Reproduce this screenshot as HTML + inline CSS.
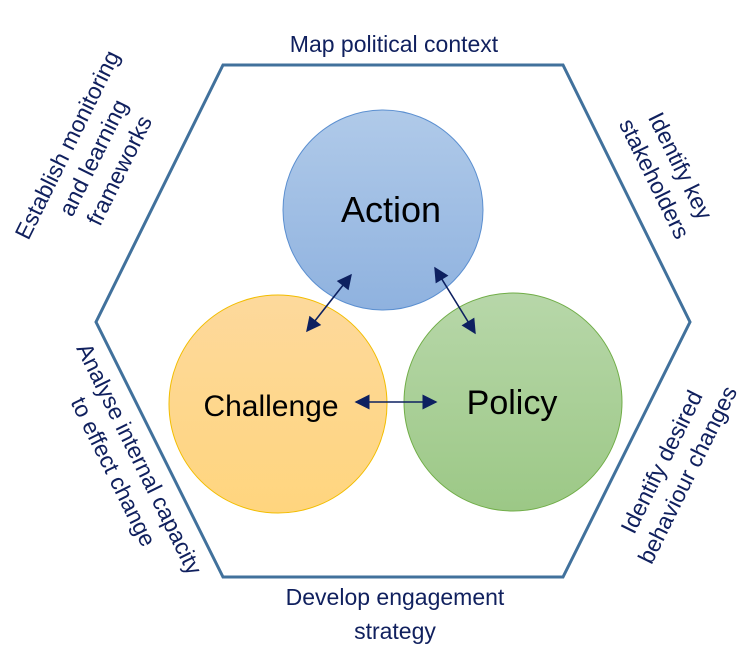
<!DOCTYPE html>
<html><head><meta charset="utf-8"><style>html,body{margin:0;padding:0;background:#fff}svg{display:block}</style></head>
<body>
<svg width="756" height="657" viewBox="0 0 756 657" xmlns="http://www.w3.org/2000/svg" font-family="'Liberation Sans', sans-serif">
<defs>
<linearGradient id="ga" x1="0" y1="0" x2="0" y2="1"><stop offset="0" stop-color="#b0cae9"/><stop offset="1" stop-color="#8fb2df"/></linearGradient>
<linearGradient id="gc" x1="0" y1="0" x2="0" y2="1"><stop offset="0" stop-color="#fdd99c"/><stop offset="1" stop-color="#ffd57e"/></linearGradient>
<linearGradient id="gp" x1="0" y1="0" x2="0" y2="1"><stop offset="0" stop-color="#b7d7a9"/><stop offset="1" stop-color="#9cc886"/></linearGradient>
<marker id="ah" viewBox="0 0 10 10" refX="9" refY="5" markerUnits="userSpaceOnUse" markerWidth="17" markerHeight="15" orient="auto-start-reverse"><path d="M0,0 L10,5 L0,10 z" fill="#0d2060"/></marker>
</defs>
<polygon points="223,65 563,65 690,322 563,577 223,577 96,322" fill="none" stroke="#41719c" stroke-width="3"/>
<circle cx="383" cy="210" r="100" fill="url(#ga)" stroke="#5b8fd0" stroke-width="1"/>
<circle cx="278" cy="404" r="109" fill="url(#gc)" stroke="#f2bd00" stroke-width="1"/>
<circle cx="513" cy="402" r="109" fill="url(#gp)" stroke="#70ad47" stroke-width="1"/>
<g stroke="#0d2060" stroke-width="1.6" fill="none">
<line x1="351" y1="275" x2="307" y2="331" marker-start="url(#ah)" marker-end="url(#ah)"/>
<line x1="435" y1="268" x2="475" y2="333" marker-start="url(#ah)" marker-end="url(#ah)"/>
<line x1="356" y1="402" x2="436" y2="402" marker-start="url(#ah)" marker-end="url(#ah)"/>
</g>
<g fill="#000" text-anchor="middle">
<text x="391" y="222" font-size="36">Action</text>
<text x="271" y="416" font-size="30">Challenge</text>
<text x="512" y="414" font-size="34">Policy</text>
</g>
<g fill="#10205e" font-size="23" text-anchor="middle">
<text x="394" y="52">Map political context</text>
<text x="395" y="605">Develop engagement</text>
<text x="395" y="639">strategy</text>
<g transform="translate(94,158) rotate(-63.7)">
<text x="0" y="-22">Establish monitoring</text>
<text x="0" y="7">and learning</text>
<text x="0" y="36">frameworks</text>
</g>
<g transform="translate(668,172) rotate(63.7)">
<text x="0" y="-6">Identify key</text>
<text x="0" y="23">stakeholders</text>
</g>
<g transform="translate(674,468) rotate(-63.7)">
<text x="0" y="-6">Identify desired</text>
<text x="0" y="23">behaviour changes</text>
</g>
<g transform="translate(127,465) rotate(63.7)">
<text x="0" y="-6">Analyse internal capacity</text>
<text x="0" y="23">to effect change</text>
</g>
</g>
</svg>
</body></html>
